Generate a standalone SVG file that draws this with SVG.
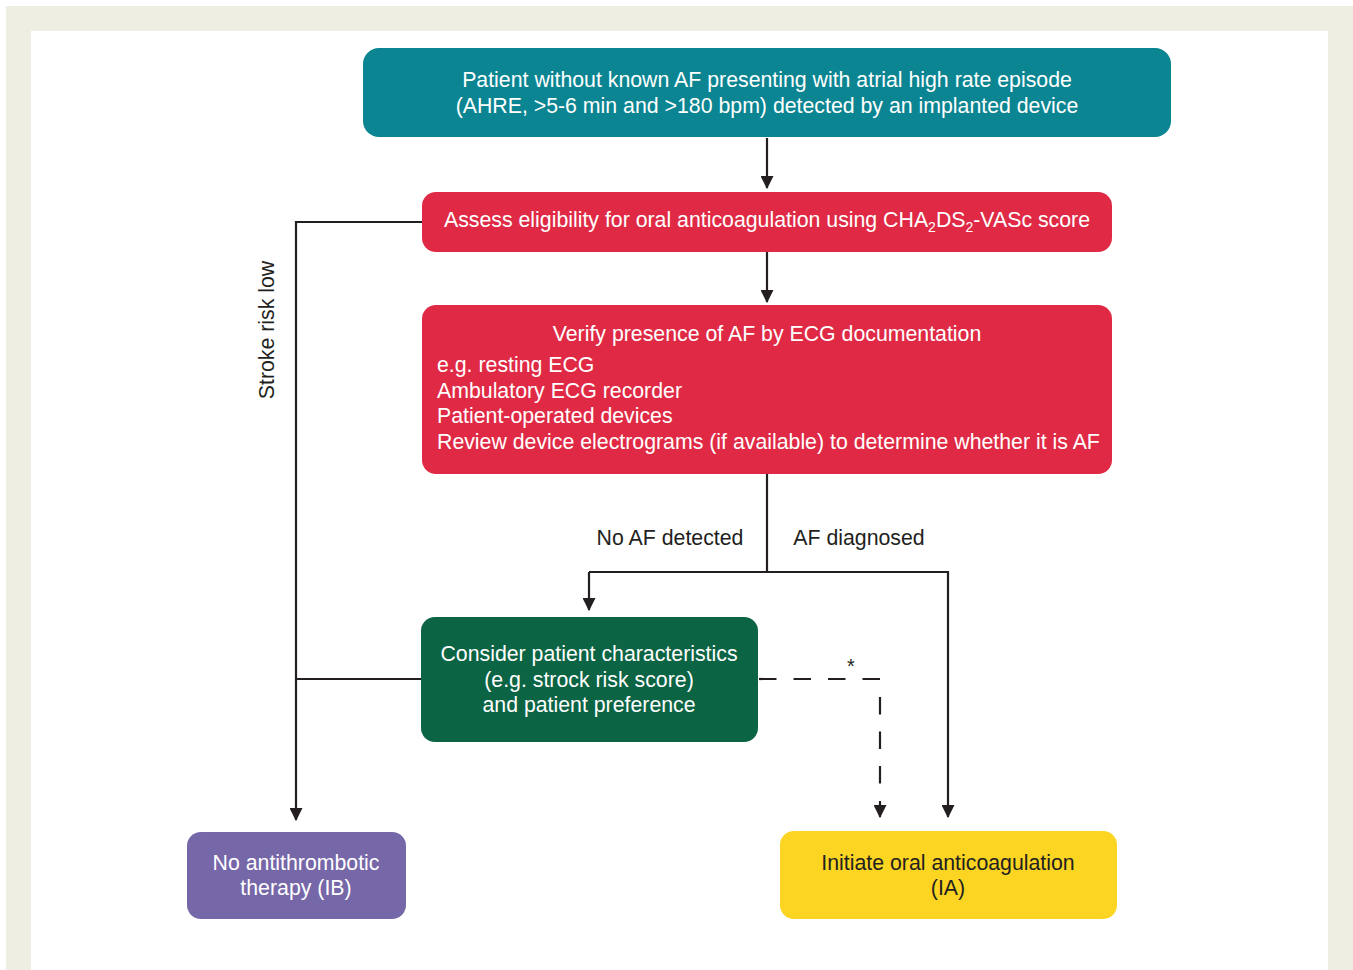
<svg xmlns="http://www.w3.org/2000/svg" width="1353" height="970" viewBox="0 0 1353 970">
<defs>
<style>
.t{font-family:"Liberation Sans",Arial,sans-serif;font-size:21.3px;fill:#fff}
.tc{text-anchor:middle}
.d{font-family:"Liberation Sans",Arial,sans-serif;font-size:21.3px;fill:#231f20}
.ln{fill:none;stroke:#231f20;stroke-width:2.2}
.ds{stroke-dasharray:17.5 17}
</style>
<marker id="arr" viewBox="0 0 12 12" refX="11" refY="6" markerWidth="13" markerHeight="13" markerUnits="userSpaceOnUse" orient="auto">
<path d="M0,0 L12,6 L0,12 Z" fill="#231f20"/>
</marker>
</defs>
<rect x="0" y="0" width="1353" height="970" fill="#fff"/>
<rect x="6" y="6" width="1347" height="964" fill="#efeee2"/>
<rect x="31" y="31" width="1297" height="939" fill="#fff"/>

<g id="connectors">
<path class="ln" d="M767,138 V188" marker-end="url(#arr)"/>
<path class="ln" d="M767,252 V302" marker-end="url(#arr)"/>
<path class="ln" d="M422,222 H296 V820" marker-end="url(#arr)"/>
<path class="ln" d="M421,679 H296"/>
<path class="ln" d="M767,474 V572"/>
<path class="ln" d="M589,572 H948 V817" marker-end="url(#arr)"/>
<path class="ln" d="M589,572 V610" marker-end="url(#arr)"/>
<path class="ln ds" d="M759,679 H881"/>
<path class="ln ds" d="M880,697 V785"/>
<path class="ln" d="M880,801 V817" marker-end="url(#arr)"/>
<text class="d" x="851" y="673" text-anchor="middle" style="font-size:20px">*</text>
<text class="d" x="670" y="545" text-anchor="middle">No AF detected</text>
<text class="d" x="859" y="545" text-anchor="middle">AF diagnosed</text>
<text class="d" transform="translate(274,330) rotate(-90)" text-anchor="middle">Stroke risk low</text>
</g>

<g id="n1">
<rect x="363" y="48" width="808" height="89" rx="16" fill="#0b8592"/>
<text class="t tc" x="767" y="87">Patient without known AF presenting with atrial high rate episode</text>
<text class="t tc" x="767" y="113">(AHRE, &gt;5-6 min and &gt;180 bpm) detected by an implanted device</text>
</g>
<g id="n2">
<rect x="422" y="192" width="690" height="60" rx="14" fill="#e02a45"/>
<text class="t tc" x="767" y="227">Assess eligibility for oral anticoagulation using CHA<tspan style="font-size:14px" dy="5">2</tspan><tspan dy="-5">DS</tspan><tspan style="font-size:14px" dy="5">2</tspan><tspan dy="-5">-VASc score</tspan></text>
</g>
<g id="n3">
<rect x="422" y="305" width="690" height="169" rx="14" fill="#e02a45"/>
<text class="t tc" x="767" y="341">Verify presence of AF by ECG documentation</text>
<text class="t" x="437" y="372">e.g. resting ECG</text>
<text class="t" x="437" y="398">Ambulatory ECG recorder</text>
<text class="t" x="437" y="423">Patient-operated devices</text>
<text class="t" x="437" y="449">Review device electrograms (if available) to determine whether it is AF</text>
</g>
<g id="n4">
<rect x="421" y="617" width="337" height="125" rx="14" fill="#0b6444"/>
<text class="t tc" x="589" y="661">Consider patient characteristics</text>
<text class="t tc" x="589" y="687">(e.g. strock risk score)</text>
<text class="t tc" x="589" y="712">and patient preference</text>
</g>
<g id="n5">
<rect x="187" y="832" width="219" height="87" rx="14" fill="#7667a8"/>
<text class="t tc" x="296" y="870">No antithrombotic</text>
<text class="t tc" x="296" y="895">therapy (IB)</text>
</g>
<g id="n6">
<rect x="780" y="831" width="337" height="88" rx="14" fill="#fcd422"/>
<text class="d tc" x="948" y="870">Initiate oral anticoagulation</text>
<text class="d tc" x="948" y="895">(IA)</text>
</g>
</svg>
